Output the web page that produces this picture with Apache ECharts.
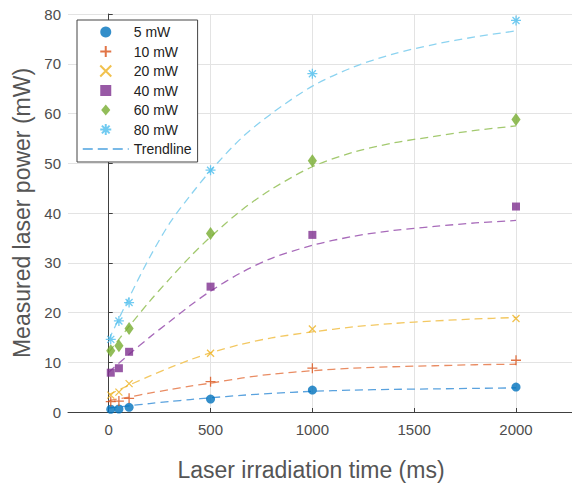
<!DOCTYPE html>
<html>
<head>
<meta charset="utf-8">
<script src="https://cdn.jsdelivr.net/npm/echarts@6/dist/echarts.min.js"></script>
<style>
  html, body { margin: 0; padding: 0; background: #fff; }
  #chart { width: 572px; height: 491px; }
</style>
</head>
<body>
<div id="chart"></div>
<script>
// Irradiation times (ms) at which the power was measured
const timesMs = [10, 50, 100, 500, 1000, 2000];

// Measured laser power (mW) for each set power
const power5 = [0.55, 0.6, 0.95, 2.6, 4.4, 5.0];
const power10 = [2.1, 2.2, 2.75, 6.1, 8.8, 10.4];
const power20 = [3.4, 4.0, 5.7, 11.8, 16.7, 18.8];
const power40 = [7.9, 8.8, 12.1, 25.2, 35.6, 41.3];
const power60 = [12.3, 13.3, 16.8, 35.9, 50.5, 58.8];
const power80 = [14.6, 18.3, 22.0, 48.6, 68.0, 78.7];

// Trendline samples (ms, mW)
const trendTimes = [0, 100, 200, 300, 400, 500, 650, 800, 1000, 1200, 1400, 1600, 1800, 2000];
const trend5 = [0.8, 1.25, 1.7, 2.1, 2.5, 2.85, 3.35, 3.75, 4.15, 4.4, 4.55, 4.65, 4.75, 4.85];
const trend10 = [2.3, 3.0, 3.8, 4.5, 5.2, 5.8, 6.8, 7.6, 8.3, 8.8, 9.1, 9.3, 9.5, 9.6];
const trend20 = [3.5, 5.4, 7.2, 8.9, 10.5, 11.9, 13.6, 14.9, 16.1, 17.1, 17.8, 18.3, 18.7, 19.0];
const trend40 = [8.0, 11.6, 15.0, 18.2, 21.4, 24.3, 28.0, 30.9, 33.5, 35.3, 36.5, 37.3, 38.0, 38.5];
const trend60 = [12.0, 17.2, 22.2, 26.8, 31.2, 35.2, 40.5, 44.8, 49.3, 52.2, 54.1, 55.4, 56.6, 57.5];
const trend80 = [14.5, 23.0, 31.0, 38.0, 43.5, 48.5, 55.0, 60.0, 65.5, 69.3, 72.0, 73.9, 75.4, 76.6];

const seriesNames = ['5 mW', '10 mW', '20 mW', '40 mW', '60 mW', '80 mW'];
const xTicks = [0, 500, 1000, 1500, 2000];

const markerColors = ['#0072BD', '#D95319', '#EDB120', '#7E2F8E', '#77AC30', '#4DBEEE'];
const trendColors = ['#5AA2DE', '#E98C63', '#F3C862', '#A86BBA', '#A3C96F', '#8CD3F0'];

const symbols = [
  'circle',
  'path://M5,0V10M0,5H10',
  'path://M0,0L10,10M0,10L10,0',
  'path://M0,0H10V10H0Z',
  'path://M5,0L10,6L5,12L0,6Z',
  'path://M5,0V10M0,5H10M1.5,1.5L8.5,8.5M1.5,8.5L8.5,1.5'
];
const sizes = [9, 10, 7, 8, [11, 13], 10];
const filled = [true, false, false, true, true, false];

const measured = [power5, power10, power20, power40, power60, power80];
const trends = [trend5, trend10, trend20, trend40, trend60, trend80];

const pairs = (xs, ys) => xs.map((x, i) => [x, ys[i]]);

const series = [];
trends.forEach((t, i) => {
  series.push({
    name: 'Trendline',
    type: 'line',
    data: pairs(trendTimes, t),
    smooth: 0.3,
    showSymbol: false,
    symbol: 'none',
    silent: true,
    z: 2,
    color: i === 0 ? '#4DA3E0' : trendColors[i],
    lineStyle: { color: trendColors[i], width: 1.3, type: [8, 5] }
  });
});
measured.forEach((m, i) => {
  series.push({
    name: seriesNames[i],
    type: 'scatter',
    data: pairs(timesMs, m),
    symbol: symbols[i],
    symbolSize: sizes[i],
    symbolKeepAspect: true,
    z: 5,
    itemStyle: filled[i]
      ? { color: markerColors[i] }
      : { color: 'rgba(0,0,0,0)', borderColor: markerColors[i], borderWidth: 1.3 }
  });
});

const legendData = seriesNames.map((n) => ({ name: n })).concat([
  { name: 'Trendline', itemStyle: { opacity: 0 }, lineStyle: { color: '#4DA3E0', width: 1.5, type: [10, 5] } }
]);

const plainNumber = (v) => String(v);

const chart = echarts.init(document.getElementById('chart'), null, { renderer: 'svg' });
chart.setOption({
  animation: false,
  backgroundColor: '#fff',
  textStyle: { fontFamily: 'Liberation Sans, Arial, sans-serif' },
  grid: { left: 68, top: 14, right: 0, bottom: 79, containLabel: false },
  legend: {
    data: legendData,
    orient: 'vertical',
    left: 77,
    top: 20,
    padding: [5, 6, 6, 5],
    itemWidth: 46,
    itemHeight: 11,
    itemGap: 5.5,
    symbolKeepAspect: true,
    borderColor: '#444',
    borderWidth: 1,
    borderRadius: 0,
    backgroundColor: '#fff',
    textStyle: { color: '#222', fontSize: 14, padding: [0, 0, 0, 0] },
    selectedMode: false
  },
  xAxis: {
    type: 'value',
    min: -200,
    max: 2275,
    name: 'Laser irradiation time (ms)',
    nameLocation: 'middle',
    nameGap: 46,
    nameTextStyle: { fontSize: 23, color: '#555', padding: [0, 18, 0, 0] },
    axisLine: { show: true, onZero: false, lineStyle: { color: '#404040', width: 1 } },
    axisTick: { show: true, inside: true, length: 4, customValues: xTicks, lineStyle: { color: '#404040' } },
    axisLabel: { customValues: xTicks, formatter: plainNumber, fontSize: 15, color: '#4d4d4d', margin: 10 },
    splitLine: { show: true, lineStyle: { color: '#e3e3e3', width: 1 } }
  },
  yAxis: {
    type: 'value',
    min: 0,
    max: 80,
    interval: 10,
    name: 'Measured laser power (mW)',
    nameLocation: 'middle',
    nameGap: 29,
    nameTextStyle: { fontSize: 23, color: '#555' },
    axisLine: { show: true, lineStyle: { color: '#404040', width: 1 } },
    axisTick: { show: true, inside: true, length: 4, lineStyle: { color: '#404040' } },
    axisLabel: { formatter: plainNumber, fontSize: 15, color: '#4d4d4d', margin: 7 },
    splitLine: { show: true, lineStyle: { color: '#e3e3e3', width: 1 } }
  },
  series: series
});
</script>
</body>
</html>
